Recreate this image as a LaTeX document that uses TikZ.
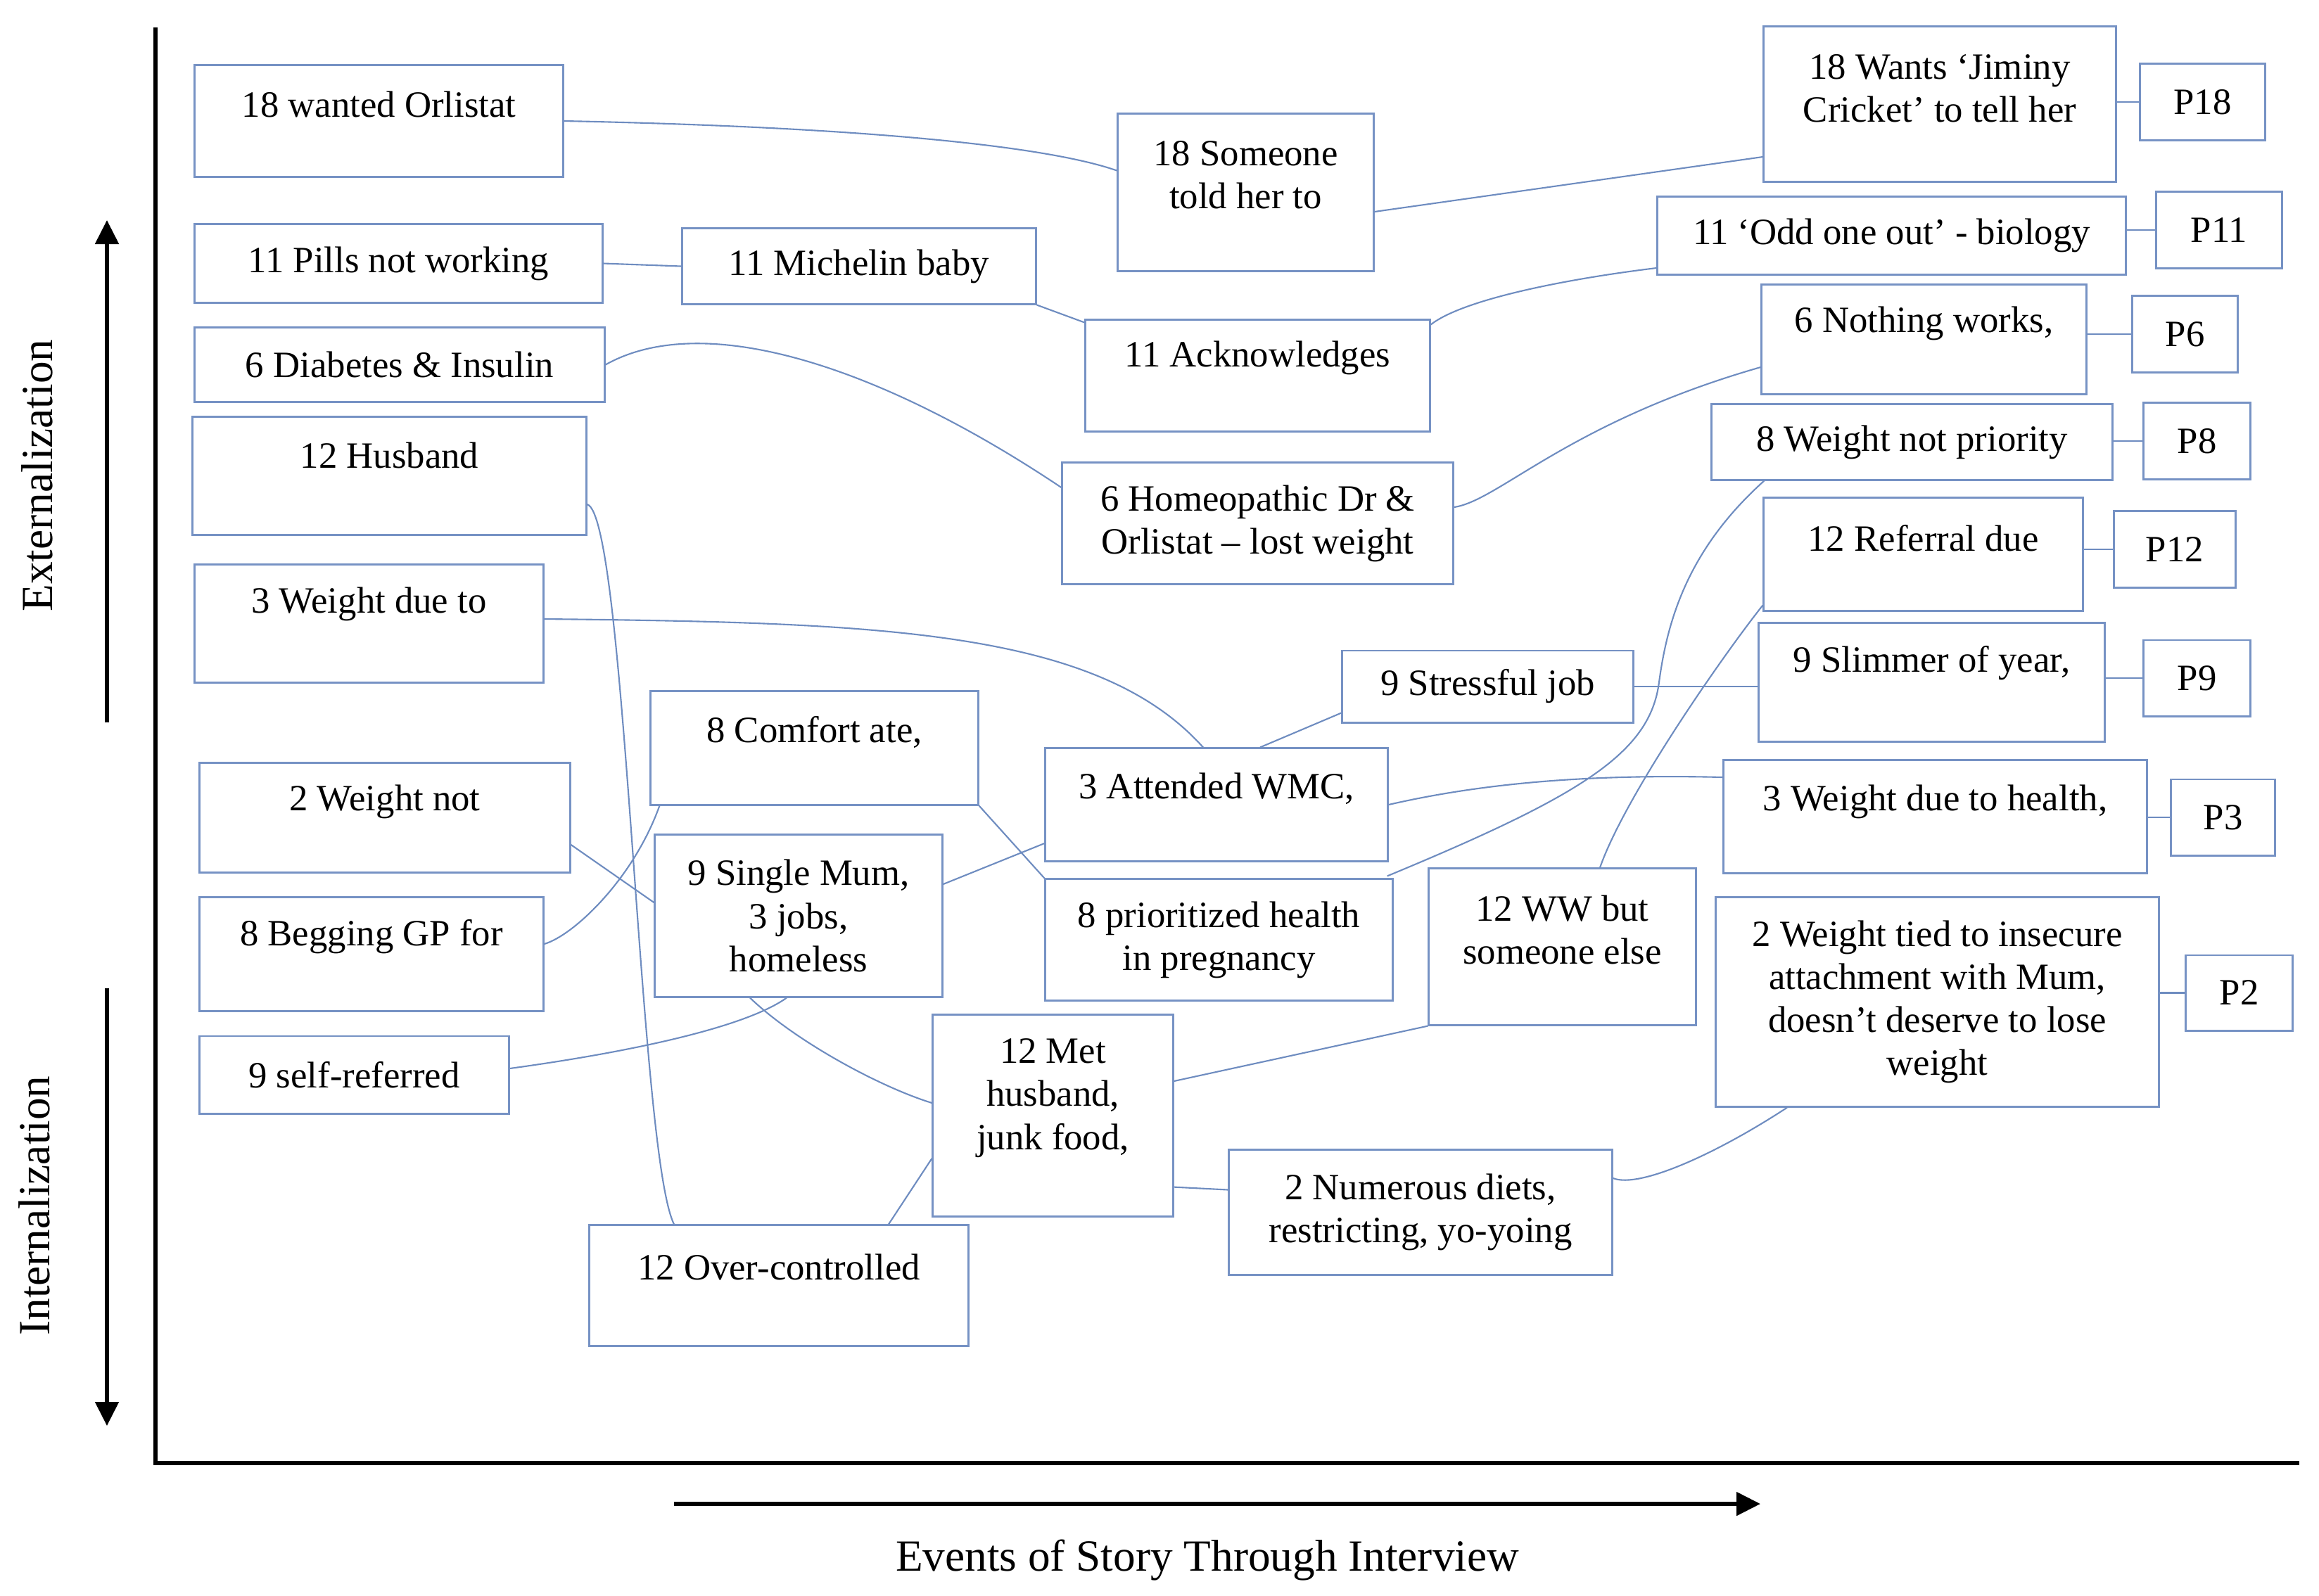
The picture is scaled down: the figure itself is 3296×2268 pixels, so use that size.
\documentclass[tikz,border=0pt]{standalone}
\usepackage{fontspec}
\setmainfont{Liberation Serif}
\usetikzlibrary{arrows.meta,calc}
\definecolor{boxblue}{RGB}{118,146,196}
\definecolor{lineblue}{RGB}{110,140,192}
\tikzstyle{evbox} = [draw=boxblue, line width=0.85pt, inner sep=0pt, rectangle, align=center,
                     font=\fontsize{15}{17.4}\selectfont]
\tikzstyle{evtext} = [inner sep=0pt, align=center, font=\fontsize{15}{17.4}\selectfont]
\tikzstyle{link} = [draw=lineblue, line width=0.6pt]
\tikzstyle{axis} = [draw, line width=1.5pt]
\tikzstyle{bigarrow} = [draw, line width=1.5pt, -{Triangle[width=0.33cm,length=0.34cm]}]
\tikzstyle{axlabel} = [inner sep=0pt, font=\fontsize{18}{21}\selectfont]

\begin{document}
\begin{tikzpicture}[x=0.01cm, y=-0.01cm]
\useasboundingbox (0,0) rectangle (3296,2268);
\fill[white] (0,0) rectangle (3296,2268);

% axes
\coordinate (top) at (221,39);
\coordinate (origin) at (221,2080);
\coordinate (right) at (3268,2080);
\draw[axis] (top) -- (origin) -- (right);
\coordinate (ext-a) at (152,1027);
\coordinate (ext-b) at (152,313);
\coordinate (int-a) at (152,1405);
\coordinate (int-b) at (152,2027);
\coordinate (ev-a) at (958,2138);
\coordinate (ev-b) at (2502,2138);
\draw[bigarrow] (ext-a) -- (ext-b);
\draw[bigarrow] (int-a) -- (int-b);
\draw[bigarrow] (ev-a) -- (ev-b);
\node[axlabel, rotate=90] (ext) at (53,676) {Externalization};
\node[axlabel, rotate=90] (int) at (49,1714) {Internalization};
\node[axlabel] (events) at (1716,2218) {Events of Story Through Interview};

% left column
\node[evbox, minimum width=5.23cm, minimum height=1.58cm] (o18) at (538.5,172) {};
\node[evtext] (o18t) at (538.5,148) {18 wanted Orlistat};
\node[evbox, minimum width=5.79cm, minimum height=1.11cm] (pills11) at (566.5,374.5) {11 Pills not working};
\node[evbox, minimum width=5.82cm, minimum height=1.05cm] (d6) at (568,518.5) {6 Diabetes \& Insulin};
\node[evbox, minimum width=5.59cm, minimum height=1.67cm] (h12) at (553.5,676.5) {};
\node[evtext] (h12t) at (553.5,647) {12 Husband};
\node[evbox, minimum width=4.95cm, minimum height=1.67cm] (w3) at (524.5,886.5) {};
\node[evtext] (w3t) at (524.5,859) {3 Weight due to};
\node[evbox, minimum width=5.26cm, minimum height=1.55cm] (w2) at (547,1162.5) {};
\node[evtext] (w2t) at (547,1140) {2 Weight not};
\node[evbox, minimum width=4.88cm, minimum height=1.61cm] (b8) at (528,1356.5) {};
\node[evtext] (b8t) at (528,1332) {8 Begging GP for};
\node[evbox, minimum width=4.39cm, minimum height=1.10cm] (s9) at (503.5,1528) {9 self-referred};

% middle
\node[evbox, minimum width=5.02cm, minimum height=1.07cm] (m11) at (1221,378.5) {11 Michelin baby};
\node[evbox, minimum width=3.63cm, minimum height=2.23cm] (t18) at (1770.5,273.5) {};
\node[evtext] (t18t) at (1770.5,249) {18 Someone\\told her to};
\node[evbox, minimum width=4.89cm, minimum height=1.58cm] (a11) at (1787.5,534) {};
\node[evtext] (a11t) at (1787.5,509) {11 Acknowledges};
\node[evbox, minimum width=5.55cm, minimum height=1.72cm] (h6) at (1787.5,744) {6 Homeopathic Dr \&\\Orlistat -- lost weight};
\node[evbox, minimum width=4.13cm, minimum height=1.02cm] (sj9) at (2114.5,976) {9 Stressful job};
\node[evbox, minimum width=4.65cm, minimum height=1.61cm] (c8) at (1157.5,1063.5) {};
\node[evtext] (c8t) at (1157.5,1041) {8 Comfort ate,};
\node[evbox, minimum width=4.86cm, minimum height=1.60cm] (at3) at (1729,1144) {};
\node[evtext] (at3t) at (1729,1121) {3 Attended WMC,};
\node[evbox, minimum width=4.08cm, minimum height=2.30cm] (sm9) at (1135,1302) {9 Single Mum,\\3 jobs,\\homeless};
\node[evbox, minimum width=4.93cm, minimum height=1.72cm] (ph8) at (1732.5,1336) {8 prioritized health\\in pregnancy};
\node[evbox, minimum width=3.79cm, minimum height=2.22cm] (ww12) at (2220.5,1346) {};
\node[evtext] (ww12t) at (2220.5,1322) {12 WW but\\someone else};
\node[evbox, minimum width=3.41cm, minimum height=2.86cm] (mh12) at (1496.5,1586) {};
\node[evtext] (mh12t) at (1496.5,1561) {12 Met\\husband,\\junk food,};
\node[evbox, minimum width=5.44cm, minimum height=1.77cm] (nd2) at (2019,1723.5) {2 Numerous diets,\\restricting, yo-yoing};
\node[evbox, minimum width=5.38cm, minimum height=1.71cm] (oc12) at (1107,1827.5) {};
\node[evtext] (oc12t) at (1107,1801) {12 Over-controlled};

% right column
\node[evbox, minimum width=5.00cm, minimum height=2.20cm] (j18) at (2757,148) {};
\node[evtext] (j18t) at (2757,125.5) {18 Wants ‘Jiminy\\Cricket’ to tell her};
\node[evbox, minimum width=6.65cm, minimum height=1.10cm] (odd11) at (2688.5,335) {11 ‘Odd one out’ - biology};
\node[evbox, minimum width=4.61cm, minimum height=1.55cm] (n6) at (2734.5,482.5) {};
\node[evtext] (n6t) at (2734.5,460) {6 Nothing works,};
\node[evbox, minimum width=5.69cm, minimum height=1.07cm] (wp8) at (2717.5,628.5) {8 Weight not priority};
\node[evbox, minimum width=4.53cm, minimum height=1.60cm] (r12) at (2733.5,788) {};
\node[evtext] (r12t) at (2733.5,765) {12 Referral due};
\node[evbox, minimum width=4.91cm, minimum height=1.68cm] (sy9) at (2745.5,970) {};
\node[evtext] (sy9t) at (2745.5,943) {9 Slimmer of year,};
\node[evbox, minimum width=6.01cm, minimum height=1.60cm] (wh3) at (2750.5,1161) {};
\node[evtext] (wh3t) at (2750.5,1140) {3 Weight due to health,};
\node[evbox, minimum width=6.29cm, minimum height=2.97cm] (wt2) at (2753.5,1424.5) {2 Weight tied to insecure\\attachment with Mum,\\doesn’t deserve to lose\\weight};

% participants
\node[evbox, minimum width=1.77cm, minimum height=1.08cm] (pt18) at (3130.5,145) {P18};
\node[evbox, minimum width=1.78cm, minimum height=1.08cm] (pt11) at (3154,327) {P11};
\node[evbox, minimum width=1.49cm, minimum height=1.08cm] (pt6) at (3105.5,475) {P6};
\node[evbox, minimum width=1.51cm, minimum height=1.08cm] (pt8) at (3122.5,627) {P8};
\node[evbox, minimum width=1.72cm, minimum height=1.08cm] (pt12) at (3091,781) {P12};
\node[evbox, minimum width=1.51cm, minimum height=1.08cm] (pt9) at (3122.5,964) {P9};
\node[evbox, minimum width=1.47cm, minimum height=1.08cm] (pt3) at (3159.5,1162) {P3};
\node[evbox, minimum width=1.51cm, minimum height=1.07cm] (pt2) at (3182.5,1411.5) {P2};

\foreach \a/\b in {j18/pt18, odd11/pt11, n6/pt6, wp8/pt8, r12/pt12, sy9/pt9, wh3/pt3, wt2/pt2}
  \draw[link] (\b.west -| \a.east) -- (\b.west);

% story links
\draw[link] (o18.east) .. controls (1200,180) and (1480,205) .. ($(t18.west)+(0,-31)$);
\draw[link] ($(t18.east)+(0,27.5)$) -- ($(j18.west)+(0,75)$);
\draw[link] (pills11.east) -- (m11.west);
\draw[link] (m11.south east) -- ($(a11.north west)+(0,5)$);
\draw[link] ($(a11.north east)+(0,8)$) .. controls (2080,425) and (2230,396) .. ($(odd11.west)+(0,46)$);
\draw[link] (d6.east) .. controls (1000,440) and (1250,520) .. ($(h6.west)+(0,-51)$);
\draw[link] ($(h6.east)+(0,-23)$) .. controls (2130,712) and (2230,600) .. ($(n6.west)+(0,39.5)$);
\draw[link] ($(h12.east)+(0,40.5)$) .. controls (890,735) and (908,1640) .. ($(oc12.north)+(-149,0)$);
\draw[link] ($(w3.east)+(0,-6.5)$) .. controls (1250,885) and (1560,895) .. ($(at3.north)+(-19,0)$);
\draw[link] ($(sj9.south west)+(0,-15)$) -- ($(at3.north)+(62,0)$);
\draw[link] (sj9.east) -- (sj9.east -| sy9.west);
\draw[link] (at3.east) .. controls (2100,1115) and (2250,1100) .. ($(wh3.west)+(0,-56)$);
\draw[link] ($(w2.east)+(0,38.5)$) -- ($(sm9.west)+(0,-19)$);
\draw[link] ($(b8.east)+(0,-14.5)$) .. controls (815,1330) and (900,1250) .. ($(c8.south west)+(14,0)$);
\draw[link] (c8.south east) -- (ph8.north west);
\draw[link] ($(sm9.east)+(0,-45)$) -- ($(at3.west)+(0,55)$);
\draw[link] ($(s9.east)+(0,-9)$) .. controls (900,1495) and (1060,1460) .. ($(sm9.south)+(-17,0)$);
\draw[link] ($(sm9.south)+(-69,0)$) .. controls (1130,1480) and (1250,1545) .. ($(mh12.west)+(0,-18)$);
\draw[link] ($(mh12.west)+(0,61)$) -- ($(oc12.north)+(156,0)$);
\draw[link] ($(wp8.south west)+(76,0)$) .. controls (2400,780) and (2370,880) .. (2358,970)
            .. controls (2345,1070) and (2250,1130) .. ($(ph8.north east)+(-9,-3)$);
\draw[link] ($(r12.south west)+(0,-9)$) .. controls (2447,934) and (2309,1133) .. ($(ww12.north)+(53.5,0)$);
\draw[link] (ww12.south west) -- ($(mh12.east)+(0,-49)$);
\draw[link] ($(mh12.south east)+(0,-43)$) -- ($(nd2.west)+(0,-32)$);
\draw[link] ($(nd2.east)+(0,-48.5)$) .. controls (2330,1690) and (2440,1640) .. ($(wt2.south)+(-213.5,0)$);
\end{tikzpicture}
\end{document}
